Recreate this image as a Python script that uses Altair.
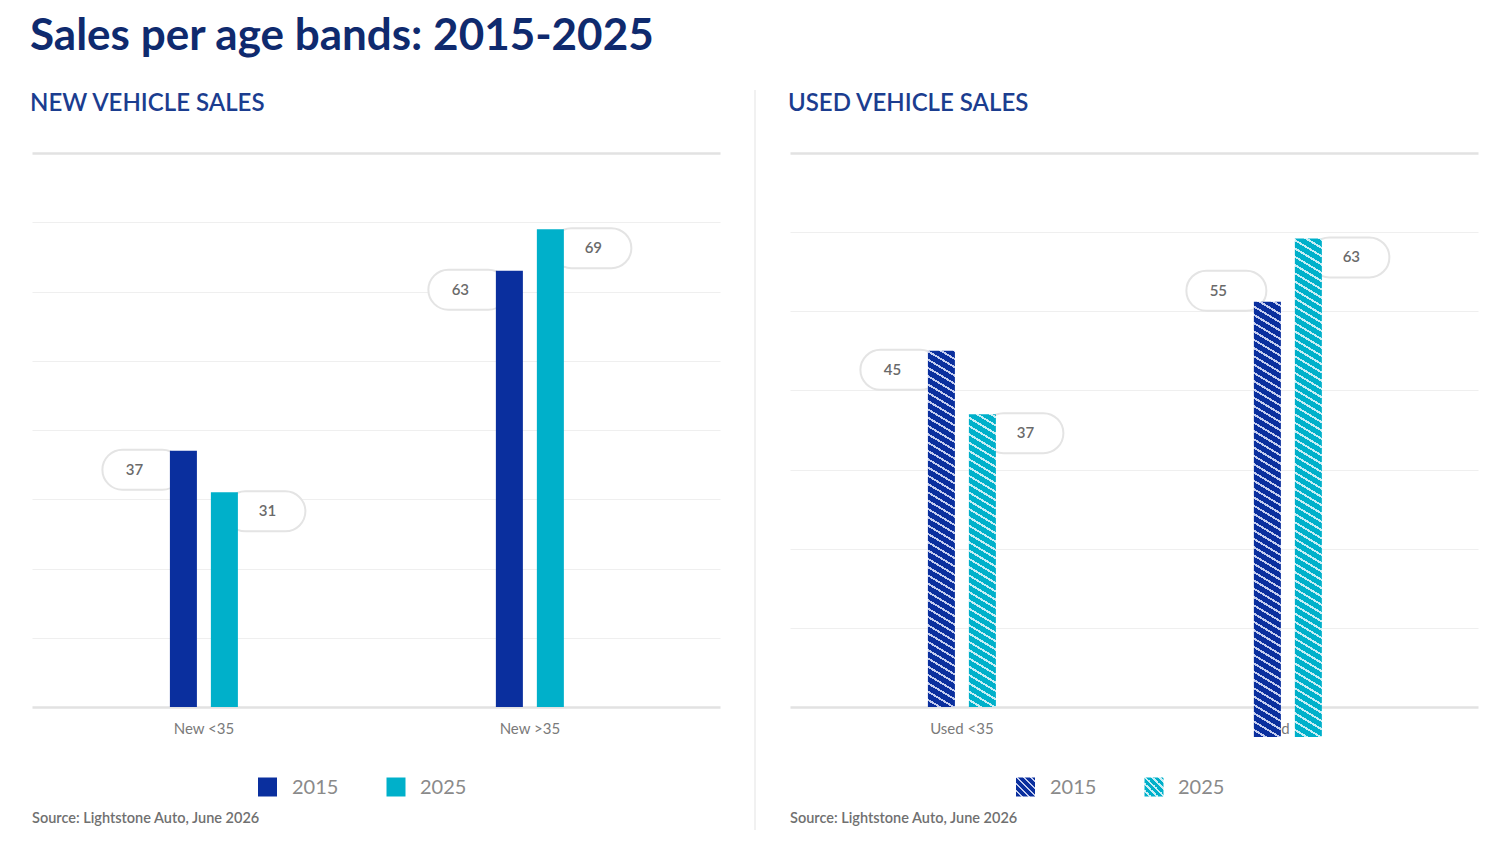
import math
import altair as alt
import pandas as pd

# ---------------- data ----------------
years = ["2015", "2025"]
new_groups = ["New <35", "New >35"]
new_2015 = [37, 63]
new_2025 = [31, 69]
used_groups = ["Used <35", "Used >35"]
used_2015 = [45, 55]
used_2025 = [37, 63]

title_text = "Sales per age bands: 2015-2025"
new_title = "NEW VEHICLE SALES"
used_title = "USED VEHICLE SALES"
source_text = "Source: Lightstone Auto, June 2026"

# ---------------- style ----------------
FONT = "Lato"
DARK = "#0a2f9e"
CYAN = "#00b0ca"
DARK_LINE = "#c3ccef"
CYAN_LINE = "#c6edf4"
W, H = 688, 554
BAR_W = 27
PILL = "M -0.5,-0.5 L 0.5,-0.5 A 0.5,0.5 0 0 1 0.5,0.5 L -0.5,0.5 A 0.5,0.5 0 0 1 -0.5,-0.5 Z"
# rendering shift of the 'Used >35' bars seen in the source image
BAR_SHIFT = {"Used >35": 30}
LABEL_SHIFT = {("Used >35", "2025"): 30}


def make_df(groups, a, b):
    rows = []
    for g, v1, v2 in zip(groups, a, b):
        rows.append({"group": g, "year": years[0], "value": v1})
        rows.append({"group": g, "year": years[1], "value": v2})
    return pd.DataFrame(rows)


def hatch(color, line, w, h, s=0.6, period=8.3, frac=0.27):
    c = (s * w + h) / (s * s * w * w + h * h)
    x2 = c * s * w
    y2 = 1 - c * h
    n = (s * w + h) / period
    stops = []
    for k in range(int(math.ceil(n))):
        a = min(k / n, 1)
        b = min((k + 1 - frac) / n, 1)
        e = min((k + 1) / n, 1)
        stops += [(a, color), (b, color), (b, line), (e, line)]
    return alt.Gradient(
        gradient="linear", x1=0, y1=1, x2=x2, y2=y2,
        stops=[alt.GradientStop(offset=o, color=col) for o, col in stops],
    )


def xenc(groups):
    return alt.X(
        "group:N",
        sort=groups,
        scale=alt.Scale(domain=groups, paddingInner=0.7914, paddingOuter=0.451, align=0.469),
        axis=alt.Axis(
            title=None, labelAngle=0, domain=False, ticks=False, labelPadding=14,
            labelFontSize=15, labelColor="#7a7a7a", labelFont=FONT, zindex=0,
        ),
    )


def yenc(top):
    return alt.Y(
        "value:Q",
        scale=alt.Scale(domain=[0, top], nice=False),
        axis=alt.Axis(
            title=None, labels=False, ticks=False, domain=False, grid=True,
            values=list(range(0, top + 1, 10)),
            gridColor={"condition": {"test": f"datum.value === 0 || datum.value === {top}",
                                     "value": "#e2e2e2"}, "value": "#efefef"},
            gridWidth={"condition": {"test": f"datum.value === 0 || datum.value === {top}",
                                     "value": 2.5}, "value": 1.2},
        ),
    )


XOFF = alt.XOffset("year:N", scale=alt.Scale(domain=years, paddingInner=0.341, paddingOuter=0))


def labels(df, groups, top):
    pills, texts = [], []
    for i, yr in enumerate(years):
        sign = -1 if i == 0 else 1
        for g in groups:
            sub = df[(df.year == yr) & (df.group == g)]
            shift = LABEL_SHIFT.get((g, yr), 0)
            pills.append(alt.Chart(sub).mark_point(
                shape=PILL, size=6400, filled=True, fill="white", stroke="#e4e4e4",
                strokeWidth=2, opacity=1, xOffset=sign * 61.5, yOffset=19 + shift,
            ).encode(x=xenc(groups), y=yenc(top)))
            texts.append(alt.Chart(sub).mark_text(
                font=FONT, fontSize=15, fontWeight=600, color="#6a6a6a",
                dx=-69.5 if i == 0 else 63.5, dy=19 + shift,
            ).encode(x=xenc(groups), y=yenc(top), text="value:Q"))
    return pills, texts


def legend(hatched):
    layers = []
    for i, (yr, col, ln) in enumerate(zip(years, [DARK, CYAN], [DARK_LINE, CYAN_LINE])):
        d = pd.DataFrame({"t": [yr]})
        fill = hatch(col, ln, 19, 19, s=1.0, period=7.0, frac=0.3) if hatched else col
        sq = alt.Chart(d).mark_square(size=361, fill=fill, filled=True, opacity=1).encode(
            x=alt.value(235.5 + i * 128.5), y=alt.value(634))
        tx = alt.Chart(d).mark_text(
            align="left", baseline="middle", font=FONT, fontSize=20, color="#8a8a8a"
        ).encode(x=alt.value(260 + i * 128), y=alt.value(635), text="t:N")
        layers += [sq, tx]
    return layers


def text_layer(t, x, y, size, weight, color):
    d = pd.DataFrame({"t": [t]})
    return alt.Chart(d).mark_text(
        align="left", baseline="alphabetic", font=FONT, fontSize=size, fontWeight=weight, color=color
    ).encode(x=alt.value(x), y=alt.value(y), text="t:N")


# ---------------- left panel ----------------
new_df = make_df(new_groups, new_2015, new_2025)
new_bars = alt.Chart(new_df).mark_bar().encode(
    x=xenc(new_groups),
    xOffset=XOFF,
    y=yenc(80),
    color=alt.Color("year:N", scale=alt.Scale(domain=years, range=[DARK, CYAN]), legend=None),
)
pills_l, texts_l = labels(new_df, new_groups, 80)
left = alt.layer(
    *pills_l, new_bars, *texts_l, *legend(False),
    text_layer(new_title, -2, -42, 24, 600, "#1b3d8f"),
    text_layer(source_text, 0, 670, 14.5, 600, "#707070"),
).properties(width=W, height=H)

# ---------------- right panel ----------------
used_df = make_df(used_groups, used_2015, used_2025)
px_per_unit = H / 70
used_bars = []
for _, row in used_df.iterrows():
    shift = BAR_SHIFT.get(row.group, 0)
    col, ln = (DARK, DARK_LINE) if row.year == years[0] else (CYAN, CYAN_LINE)
    hpx = row.value * px_per_unit + shift
    sub = used_df[(used_df.group == row.group) & (used_df.year == row.year)]
    used_bars.append(
        alt.Chart(sub).mark_bar(fill=hatch(col, ln, BAR_W, row.value * px_per_unit), yOffset=shift).encode(
            x=xenc(used_groups), xOffset=XOFF, y=yenc(70))
    )
pills_r, texts_r = labels(used_df, used_groups, 70)
divider = alt.Chart(pd.DataFrame({"a": [0]})).mark_rule(color="#ededed", strokeWidth=1.5).encode(
    x=alt.value(-35), y=alt.value(-63), y2=alt.value(677))
right = alt.layer(
    divider, *pills_r, *used_bars, *texts_r, *legend(True),
    text_layer(used_title, -2, -42, 24, 600, "#1b3d8f"),
    text_layer(source_text, 0, 670, 14.5, 600, "#707070"),
).properties(width=W, height=H)

chart = alt.hconcat(left, right, spacing=34).properties(
    title=alt.TitleParams(title_text, anchor="start", font=FONT, fontSize=44, fontWeight="bold",
                          color="#0f2a6e", offset=30),
    padding={"left": 22, "top": 7, "right": 2, "bottom": 4},
).configure_view(stroke=None)

chart.save("out.html", embed_options={"renderer": "svg", "actions": False})
